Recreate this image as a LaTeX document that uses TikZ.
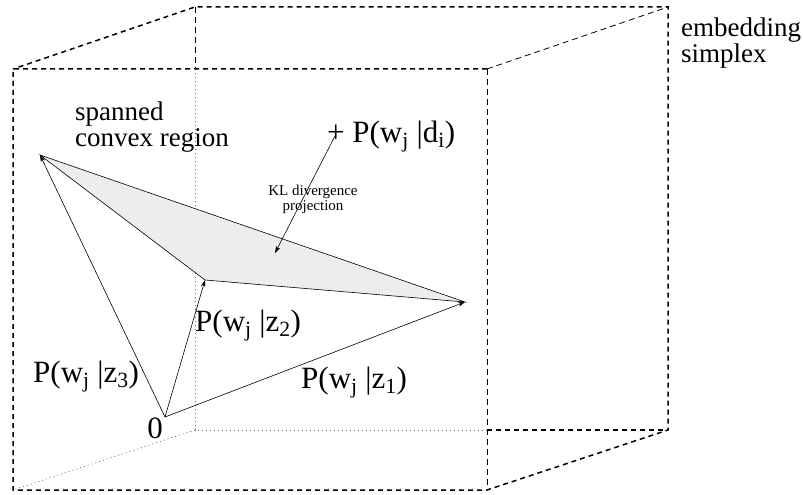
\documentclass[tikz,border=0pt]{standalone}
\usepackage{fontspec}
\setmainfont{Liberation Serif}
\usetikzlibrary{arrows.meta}
\begin{document}
\begin{tikzpicture}[x=1pt,y=-1pt,
  sil/.style={line width=1.5pt, dash pattern=on 5pt off 4pt},
  inedge/.style={line width=0.8pt, dash pattern=on 6pt off 4pt},
  hid/.style={line width=0.7pt, dash pattern=on 1pt off 3pt, black!60},
  vec/.style={line width=0.6pt, -{Stealth[length=7pt,width=4.5pt]}},
  lab/.style={font=\fontsize{31}{31}\selectfont, inner sep=0pt},
  txt/.style={font=\fontsize{27}{26}\selectfont, align=left, inner sep=0pt},
  small/.style={font=\fontsize{15}{15}\selectfont, align=center, inner sep=0pt}]
\useasboundingbox (0,0) rectangle (803,495);
% cube corners
\coordinate (F1) at (13,69);  \coordinate (F2) at (487,69);
\coordinate (F3) at (487,490); \coordinate (F4) at (13,490);
\coordinate (B1) at (195,7);  \coordinate (B2) at (668,7);
\coordinate (B3) at (668,430); \coordinate (B4) at (195,430);
\coordinate (BL) at (195,69);  \coordinate (BB) at (487,430);
% hidden edges
\draw[hid] (BL) -- (B4) -- (BB);
\draw[hid] (B4) -- (F4);
% visible edges
\draw[sil] (F2) -- (F1) -- (F4) -- (F3) -- (B3) -- (B2) -- (B1) -- (F1);
\draw[inedge] (F2) -- (F3);
\draw[inedge] (F2) -- (B2);
\draw[inedge] (B1) -- (BL);
\draw[sil] (BB) -- (B3);
% vectors
\coordinate (O) at (165,417);
\coordinate (z1) at (465,302);
\coordinate (z2) at (205,280);
\coordinate (z3) at (40,155);
\fill[black!7] (z3) -- (z1) -- (z2) -- cycle;
\draw[line width=0.6pt] (z3) -- (z1) -- (z2) -- cycle;
\draw[vec] (O) -- (z1);
\draw[vec] (O) -- (z2);
\draw[vec] (O) -- (z3);
% projection
\coordinate (dp) at (336,134);
\coordinate (proj) at (275,253);
\draw[vec] (dp) -- (proj);
% labels
\node[lab, anchor=base west] (pd) at (327,142) {+ P(w\textsubscript{j} |d\textsubscript{i})};
\node[small] (kl) at (313,199) {KL divergence\\projection};
\node[txt, anchor=base west] (scr) at (75,146) {spanned\\convex region};
\node[txt, anchor=base west] (emb) at (681,63) {embedding\\simplex};
\node[lab, anchor=base west] (l2) at (195,331) {P(w\textsubscript{j} |z\textsubscript{2})};
\node[lab, anchor=base west] (l3) at (33,382) {P(w\textsubscript{j} |z\textsubscript{3})};
\node[lab, anchor=base west] (l1) at (301,388) {P(w\textsubscript{j} |z\textsubscript{1})};
\node[lab, anchor=base] (zero) at (155,438) {0};
\end{tikzpicture}
\end{document}
